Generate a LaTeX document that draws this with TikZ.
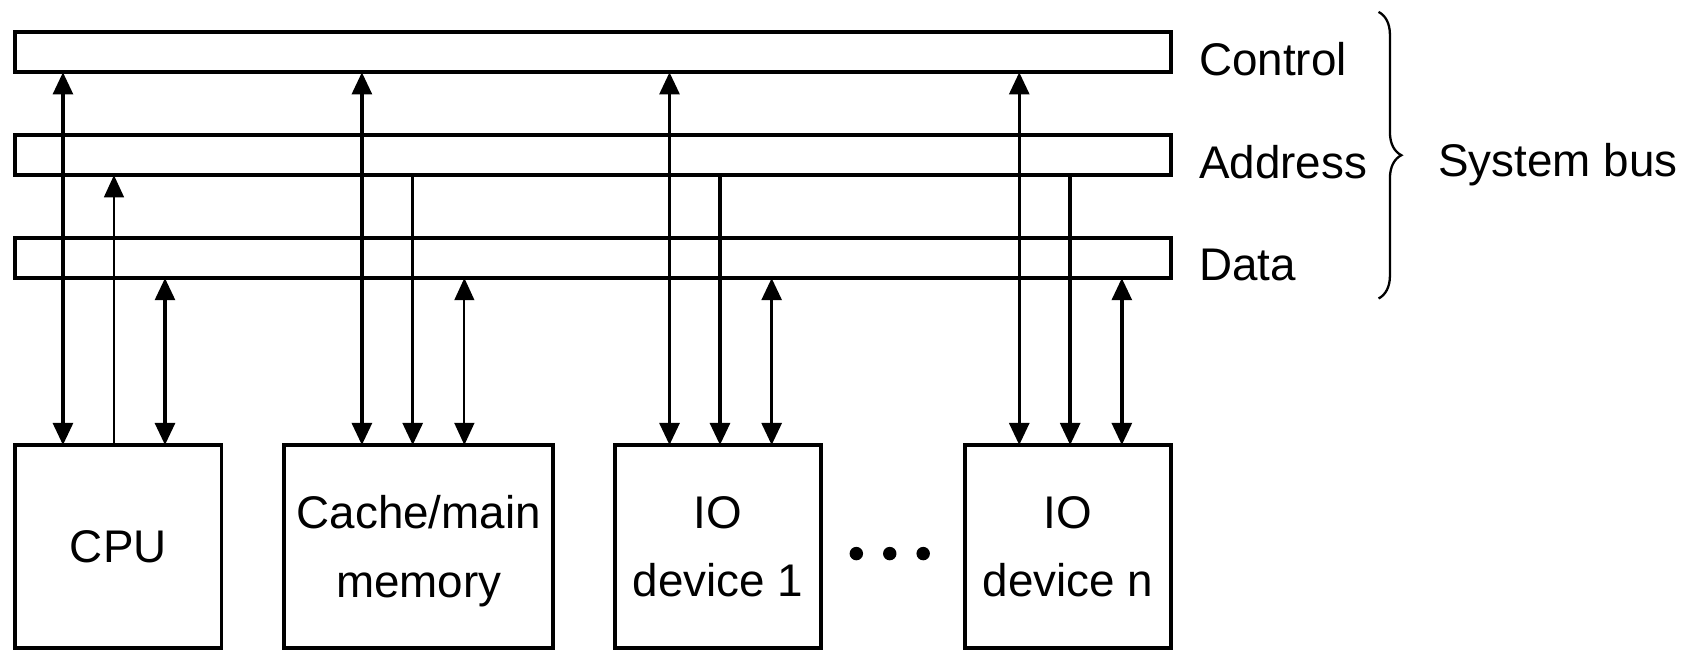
\documentclass[tikz,border=0pt]{standalone}
\usepackage{fontspec}
\setmainfont{Liberation Sans}
\usetikzlibrary{positioning,arrows.meta,decorations.pathreplacing}

\begin{document}
\begin{tikzpicture}[
  bus/.style={
    draw,
    rectangle,
    line width=1pt,
    minimum width=10.65cm,
    minimum height=0.368cm,
    inner sep=0pt,
    outer sep=0pt
  },
  unit/.style={
    draw,
    rectangle,
    line width=1pt,
    minimum height=1.87cm,
    inner sep=0pt,
    outer sep=0pt,
    align=center,
    text depth=0pt,
    font=\fontsize{12}{18}\selectfont
  },
  busname/.style={
    anchor=base west,
    inner sep=0pt,
    font=\fontsize{12}{14}\selectfont
  },
  heavyline/.style={line width=0.9pt},
  lightline/.style={line width=0.5pt},
  >={Triangle[width=5.2pt,length=5.8pt]}
]

\useasboundingbox (0,0) rectangle (15.68,6.00);

% Bus lines
\node[bus] (ctrl) at (5.465,5.518) {};
\node[bus, below=0.58cm of ctrl] (addr) {};
\node[bus, below=0.58cm of addr] (data) {};

% Bus labels
\node[busname] (ctrl-l) at ([xshift=0.25cm, yshift=-0.21cm]ctrl.east) {Control};
\node[busname] (addr-l) at ([xshift=0.25cm, yshift=-0.21cm]addr.east) {Address};
\node[busname] (data-l) at ([xshift=0.25cm, yshift=-0.21cm]data.east) {Data};

% Modules
\node[unit, minimum width=1.90cm] (cpu) at (1.09,0.965) {CPU};
\node[unit, minimum width=2.48cm, right=0.578cm of cpu] (mem) {Cache/main\\memory};
\node[unit, minimum width=1.90cm, right=0.565cm of mem] (io1) {IO\\device 1};
\node[unit, minimum width=1.90cm, right=1.326cm of io1] (ion) {IO\\device n};

% Dots
\foreach \i in {0,1,2} {
  \fill ([xshift=0.326cm+\i*0.308cm, yshift=-0.065cm]io1.east) circle (0.062cm);
}

% Control lines
\foreach \dev/\c/\a/\d in {cpu/0.44/0.91/1.38, mem/0.716/1.184/1.66,
                           io1/0.505/0.97/1.446, ion/0.501/0.97/1.446} {
  \coordinate (\dev-c) at ([xshift=\c cm]\dev.north west);
  \coordinate (\dev-a) at ([xshift=\a cm]\dev.north west);
  \coordinate (\dev-d) at ([xshift=\d cm]\dev.north west);
  \draw[heavyline, <->] (\dev-c) -- (\dev-c |- ctrl.south);
}

% Address lines
\draw[lightline, ->] (cpu-a) -- (cpu-a |- addr.south);
\foreach \dev in {mem,io1,ion} {
  \draw[heavyline, ->] (\dev-a |- addr.south) -- (\dev-a);
}

% Data lines
\foreach \dev/\w in {cpu/heavyline, mem/lightline, io1/heavyline, ion/heavyline} {
  \draw[\w, <->] (\dev-d) -- (\dev-d |- data.south);
}

% Brace
\coordinate (brace-top) at (12.70,5.89);
\coordinate (brace-bot) at (12.70,3.25);
\draw[decorate, decoration={brace, amplitude=0.21cm}, line width=0.6pt]
  (brace-top) -- node[busname, midway, xshift=0.54cm, yshift=-0.2cm] (sysbus) {System bus} (brace-bot);

\end{tikzpicture}
\end{document}
